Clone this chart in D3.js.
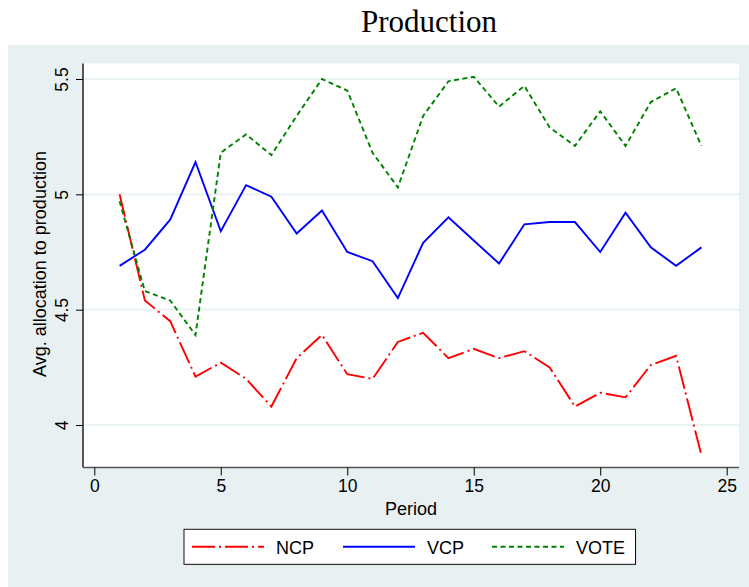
<!DOCTYPE html>
<html>
<head>
<meta charset="utf-8">
<script src="https://cdn.jsdelivr.net/npm/d3@7"></script>
<style>
  html, body { margin: 0; padding: 0; background: #ffffff; }
  svg { display: block; }
</style>
</head>
<body>
<svg id="chart" width="749" height="587"></svg>
<script>
const periods = [1,2,3,4,5,6,7,8,9,10,11,12,13,14,15,16,17,18,19,20,21,22,23,24];
const ncp  = [5.00,4.54,4.45,4.21,4.27,4.20,4.08,4.29,4.39,4.22,4.20,4.36,4.40,4.29,4.33,4.29,4.32,4.25,4.08,4.14,4.12,4.26,4.30,3.87];
const vcp  = [4.69,4.76,4.89,5.14,4.84,5.04,4.99,4.83,4.93,4.75,4.71,4.55,4.79,4.90,4.80,4.70,4.87,4.88,4.88,4.75,4.92,4.77,4.69,4.77];
const vote = [4.97,4.58,4.54,4.39,5.18,5.26,5.17,5.34,5.50,5.45,5.18,5.03,5.34,5.49,5.51,5.38,5.47,5.29,5.21,5.36,5.21,5.40,5.46,5.21];
const xTicks = [0,5,10,15,20,25];
const yTicks = [4,4.5,5,5.5];
const seriesNames = ["NCP","VCP","VOTE"];
const seriesColors = ["#ff0000","#0000ff","#008000"];
const seriesDash = ["23,4,2,4", null, "5,3.5"];
const title = "Production";
const xTitle = "Period";
const yTitle = "Avg. allocation to production";

const svg = d3.select("#chart");
const bg = "#e8f0f2";
const sans = "Arial, 'Liberation Sans', sans-serif";

// outer graph region
svg.append("rect").attr("x", 8).attr("y", 45).attr("width", 741).attr("height", 542).attr("fill", bg);

// plot region
const plot = {left: 83, right: 739, top: 63.5, bottom: 467.5};
svg.append("rect").attr("x", plot.left).attr("y", plot.top)
  .attr("width", plot.right - plot.left).attr("height", plot.bottom - plot.top).attr("fill", "#ffffff");

const x = d3.scaleLinear().domain([0, 25]).range([94.3, 726.7]);
const y = d3.scaleLinear().domain([4, 5.5]).range([425, 79]);

// gridlines
svg.append("g").selectAll("line").data(yTicks).join("line")
  .attr("x1", plot.left).attr("x2", plot.right)
  .attr("y1", d => y(d)).attr("y2", d => y(d))
  .attr("stroke", "#e6eff1").attr("stroke-width", 1.6);

// y axis
const yAxis = d3.axisLeft(y).tickValues(yTicks).tickSize(7).tickFormat(d3.format("~g"));
const gy = svg.append("g").attr("transform", `translate(${plot.left},0)`).call(yAxis);
gy.select(".domain").attr("d", `M0,${plot.top}V${plot.bottom}`).attr("stroke", "#000").attr("stroke-width", 1.3);
gy.selectAll(".tick line").attr("stroke", "#000").attr("stroke-width", 1);
gy.selectAll(".tick text")
  .attr("font-family", sans).attr("font-size", 17.5)
  .attr("fill", "#000")
  .attr("text-anchor", "middle")
  .attr("x", 0).attr("dy", 0).attr("y", 0)
  .attr("transform", "translate(-15,0) rotate(-90)");

// x axis
const xAxis = d3.axisBottom(x).tickValues(xTicks).tickSize(8).tickFormat(d3.format("d"));
const gx = svg.append("g").attr("transform", `translate(0,${plot.bottom})`).call(xAxis);
gx.select(".domain").attr("d", `M${plot.left},0H${plot.right}`).attr("stroke", "#555").attr("stroke-width", 1.6);
gx.selectAll(".tick line").attr("stroke", "#000").attr("stroke-width", 1);
gx.selectAll(".tick text")
  .attr("font-family", sans).attr("font-size", 17.5)
  .attr("fill", "#000").attr("y", 12).attr("dy", "0.71em");

// axis titles
svg.append("text").attr("x", (plot.left + plot.right) / 2).attr("y", 515)
  .attr("text-anchor", "middle")
  .attr("font-family", sans).attr("font-size", 18)
  .text(xTitle);
svg.append("text").attr("transform", `translate(45.5,${(y(5.5)+y(4))/2 + 12}) rotate(-90)`)
  .attr("text-anchor", "middle")
  .attr("font-family", sans).attr("font-size", 18)
  .text(yTitle);

// title
svg.append("text").attr("x", 429).attr("y", 32).attr("text-anchor", "middle")
  .attr("font-family", "'Times New Roman', 'Liberation Serif', serif").attr("font-size", 31)
  .text(title);

// series
const allSeries = [ncp, vcp, vote];
const line = d3.line().x((d, i) => x(periods[i])).y(d => y(d));
allSeries.forEach((vals, k) => {
  svg.append("path").datum(vals)
    .attr("d", line)
    .attr("fill", "none")
    .attr("stroke", seriesColors[k])
    .attr("stroke-width", 1.9)
    .attr("stroke-linejoin", "miter")
    .attr("stroke-dasharray", seriesDash[k]);
});

// legend
const lg = svg.append("g");
lg.append("rect").attr("x", 185.5).attr("y", 530.5).attr("width", 451).attr("height", 35).attr("fill", "#cfd6d8");
lg.append("rect").attr("x", 184).attr("y", 529.3).attr("width", 451.5).attr("height", 35).attr("fill", "#fff")
  .attr("stroke", "#111").attr("stroke-width", 1);
const legX = [192, 343, 492];
seriesNames.forEach((name, k) => {
  lg.append("line").attr("x1", legX[k]).attr("x2", legX[k] + 72)
    .attr("y1", 546.7).attr("y2", 546.7)
    .attr("stroke", seriesColors[k]).attr("stroke-width", 1.9)
    .attr("stroke-dasharray", seriesDash[k]);
  lg.append("text").attr("x", legX[k] + 84).attr("y", 553.5)
    .attr("font-family", sans).attr("font-size", 18)
    .text(name);
});
</script>
</body>
</html>
